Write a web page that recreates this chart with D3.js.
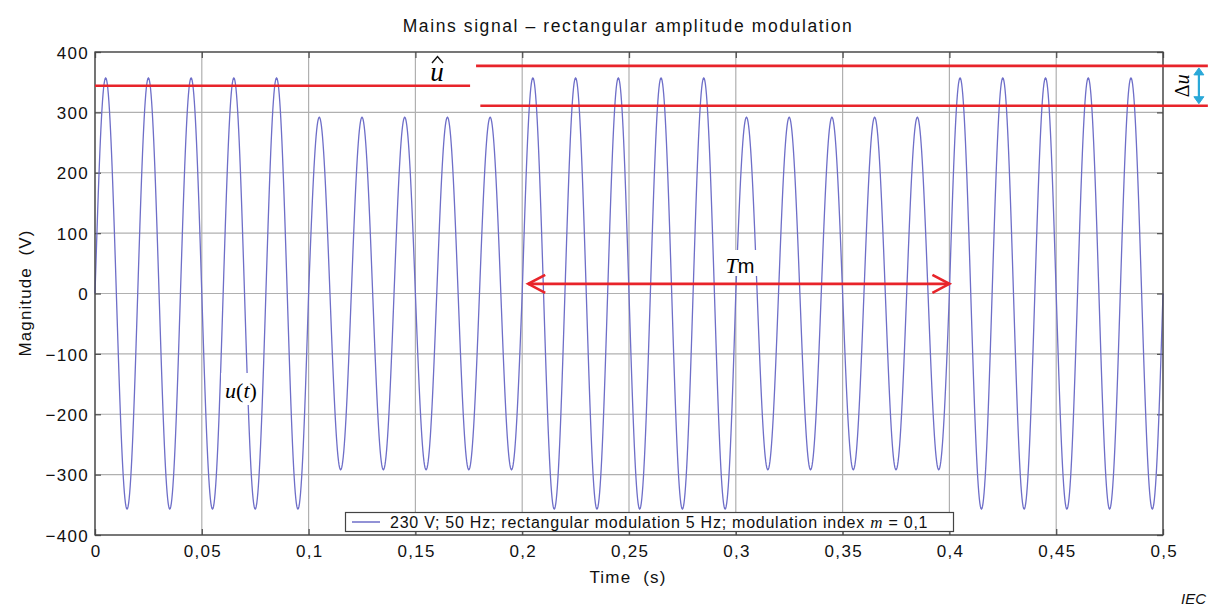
<!DOCTYPE html>
<html><head><meta charset="utf-8">
<script src="https://cdn.jsdelivr.net/npm/d3@7"></script>
<style>
body{margin:0;background:#fff;}
text{font-family:"Liberation Sans",Arial,sans-serif;}
</style></head>
<body>
<svg id="c" width="1208" height="606"></svg>
<script>
// ---- data ----
const title = "Mains signal \u2013 rectangular amplitude modulation";
const xTicks = [0,0.05,0.1,0.15,0.2,0.25,0.3,0.35,0.4,0.45,0.5];
const xTickLabels = ["0","0,05","0,1","0,15","0,2","0,25","0,3","0,35","0,4","0,45","0,5"];
const yTicks = [-400,-300,-200,-100,0,100,200,300,400];
const yTickLabels = ["\u2212400","\u2212300","\u2212200","\u2212100","0","100","200","300","400"];
const mainsFreq = 50;            // Hz
// peak magnitude (V) of each 50 Hz cycle (25 cycles over 0..0.5 s)
const cyclePeaks = [357,357,357,357,357, 292,292,292,292,292,
                    357,357,357,357,357, 292,292,292,292,292,
                    357,357,357,357,357];
const legendText = ["230 V; 50 Hz; rectangular modulation 5 Hz; modulation index ", "m", " = 0,1"];
// annotation lines [t0, t1, value]
const uHatLine = [0, 0.1756, 344];
const deltaTop = [0.1784, 0.521, 377];
const deltaBot = [0.1804, 0.521, 311];
const tmArrow = [0.2, 0.4, 16];
const deltaArrowT = 0.5168;

// ---- layout ----
const svg = d3.select("#c");
const L = 95, R = 1163, T = 52, B = 535;
const x = d3.scaleLinear().domain([0,0.5]).range([L,R]);
const y = d3.scaleLinear().domain([-400,400]).range([B,T]);

// grid
const g = svg.append("g");
g.selectAll(".vg").data(xTicks).join("line")
  .attr("x1",d=>x(d)).attr("x2",d=>x(d)).attr("y1",T).attr("y2",B)
  .attr("stroke","#b0b0b0").attr("stroke-width",1.2);
g.selectAll(".hg").data(yTicks).join("line")
  .attr("x1",L).attr("x2",R).attr("y1",d=>y(d)).attr("y2",d=>y(d))
  .attr("stroke","#b0b0b0").attr("stroke-width",1.2);

// axes with inward ticks
const ax = svg.append("g").attr("transform",`translate(0,${B})`)
  .call(d3.axisBottom(x).tickValues(xTicks).tickSize(-6).tickPadding(10).tickFormat((d,i)=>xTickLabels[i]));
const axT = svg.append("g").attr("transform",`translate(0,${T})`)
  .call(d3.axisTop(x).tickValues(xTicks).tickSize(-6).tickFormat(""));
const ay = svg.append("g").attr("transform",`translate(${L},0)`)
  .call(d3.axisLeft(y).tickValues(yTicks).tickSize(-6).tickPadding(6).tickFormat((d,i)=>yTickLabels[i]));
const ayR = svg.append("g").attr("transform",`translate(${R},0)`)
  .call(d3.axisRight(y).tickValues(yTicks).tickSize(-6).tickFormat(""));
[ax,axT,ay,ayR].forEach(a=>{
  a.select(".domain").remove();
  a.selectAll(".tick line").attr("stroke","#555").attr("stroke-width",1.3);
  a.selectAll("text").attr("fill","#111").style("font-size","17px").style("letter-spacing","1.3px");
});
ax.selectAll("text").attr("dx","0.65px");
ay.selectAll("text").attr("dy","0.36em");

// signal
const pts = [];
const period = 1/mainsFreq;
cyclePeaks.forEach((pk,i)=>{
  for(let k=0;k<80;k++){
    const t = i*period + k*period/80;
    pts.push([t, pk*Math.sin(2*Math.PI*mainsFreq*(t - i*period))]);
  }
});
pts.push([0.5, 0]);
svg.append("path").datum(pts)
  .attr("d", d3.line().x(d=>x(d[0])).y(d=>y(d[1])))
  .attr("fill","none").attr("stroke","#6e6ec8").attr("stroke-width",1.3);

// frame
svg.append("rect").attr("x",L).attr("y",T).attr("width",R-L).attr("height",B-T)
  .attr("fill","none").attr("stroke","#444").attr("stroke-width",1.3);

// red lines
const red = "#e8242a";
[uHatLine, deltaTop, deltaBot].forEach(l=>{
  svg.append("line").attr("x1",x(l[0])).attr("x2",x(l[1])).attr("y1",y(l[2])).attr("y2",y(l[2]))
    .attr("stroke",red).attr("stroke-width",2.6);
});

// u hat
svg.append("text").attr("x",437).attr("y",81)
  .attr("text-anchor","middle").style("font-family","'Liberation Serif',serif")
  .style("font-size","27px").style("font-style","italic").text("u");
svg.append("path").attr("d","M432,63L437.5,56.5L443,63").attr("fill","none").attr("stroke","#111").attr("stroke-width",1.4);

// delta u arrow
const cyan = "#2aa8d8";
const ax1 = x(deltaArrowT), ay1 = y(deltaTop[2]), ay2 = y(deltaBot[2]);
svg.append("line").attr("x1",ax1).attr("x2",ax1).attr("y1",ay1+4).attr("y2",ay2-4)
  .attr("stroke",cyan).attr("stroke-width",2.2);
svg.append("path").attr("d",`M${ax1-5},${ay1+9}L${ax1},${ay1+2}L${ax1+5},${ay1+9}Z M${ax1-5},${ay2-9}L${ax1},${ay2-2}L${ax1+5},${ay2-9}Z`)
  .attr("fill",cyan).attr("stroke",cyan);
const du = svg.append("text").attr("transform",`translate(1189,${(ay1+ay2)/2}) rotate(-90)`)
  .attr("text-anchor","middle").style("font-family","'Liberation Serif',serif").style("font-size","20px");
du.append("tspan").text("\u0394");
du.append("tspan").style("font-style","italic").text("u");

// Tm arrow
const tx1 = x(tmArrow[0])+6, tx2 = x(tmArrow[1]), ty = y(tmArrow[2]);
svg.append("line").attr("x1",tx1).attr("x2",tx2).attr("y1",ty).attr("y2",ty)
  .attr("stroke",red).attr("stroke-width",2.6);
svg.append("path").attr("d",`M${tx1+17},${ty-9}L${tx1},${ty}L${tx1+17},${ty+9} M${tx2-17},${ty-9}L${tx2},${ty}L${tx2-17},${ty+9}`)
  .attr("fill","none").attr("stroke",red).attr("stroke-width",2.6);
svg.append("rect").attr("x",720).attr("y",250).attr("width",42).attr("height",26).attr("fill","#fff");
const tm = svg.append("text").attr("x",740).attr("y",273).attr("text-anchor","middle");
tm.append("tspan").style("font-family","'Liberation Serif',serif").style("font-style","italic").style("font-size","22px").text("T");
tm.append("tspan").style("font-size","20px").text("m");

// u(t)
svg.append("rect").attr("x",221).attr("y",373).attr("width",40).attr("height",32).attr("fill","#fff");
const ut = svg.append("text").attr("x",241).attr("y",398).attr("text-anchor","middle")
  .style("font-family","'Liberation Serif',serif").style("font-size","22px");
ut.append("tspan").style("font-style","italic").text("u");
ut.append("tspan").text("(");
ut.append("tspan").style("font-style","italic").text("t");
ut.append("tspan").text(")");

// legend
svg.append("rect").attr("x",345.5).attr("y",512.5).attr("width",608).attr("height",19)
  .attr("fill","#fff").attr("stroke","#444").attr("stroke-width",1.2);
svg.append("line").attr("x1",352).attr("x2",380).attr("y1",522).attr("y2",522)
  .attr("stroke","#6e6ec8").attr("stroke-width",1.5);
const lt = svg.append("text").attr("x",390).attr("y",528).style("font-size","16px")
  .style("letter-spacing","0.75px").attr("fill","#111");
lt.append("tspan").text(legendText[0]);
lt.append("tspan").style("font-family","'Liberation Serif',serif").style("font-style","italic").style("font-size","17px").text(legendText[1]);
lt.append("tspan").text(legendText[2]);

// titles
svg.append("text").attr("x",628).attr("y",32).attr("text-anchor","middle")
  .style("font-size","17.5px").style("letter-spacing","1.6px").attr("fill","#111").text(title);
svg.append("text").attr("x",628).attr("y",583).attr("text-anchor","middle")
  .style("font-size","17px").style("letter-spacing","1.2px").attr("fill","#111").attr("xml:space","preserve").text("Time  (s)");
svg.append("text").attr("transform","translate(31,293) rotate(-90)").attr("text-anchor","middle")
  .style("font-size","17px").style("letter-spacing","1.1px").attr("fill","#111").attr("xml:space","preserve").text("Magnitude  (V)");
svg.append("text").attr("x",1181).attr("y",604).style("font-size","15px").style("font-style","italic")
  .attr("fill","#111").text("IEC");
</script>
</body></html>
